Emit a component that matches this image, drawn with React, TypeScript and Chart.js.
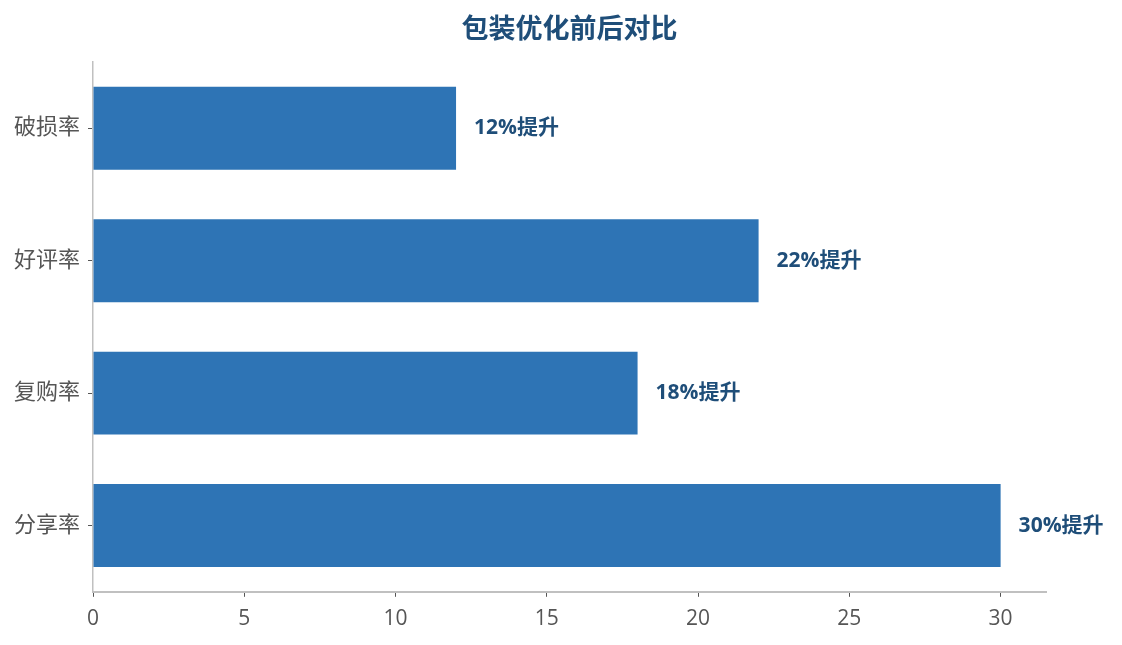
import { useEffect, useRef } from "react";
import { Chart, registerables, type ChartConfiguration, type Plugin } from "chart.js";

Chart.register(...registerables);

const title = "包装优化前后对比";
const categories = ["破损率", "好评率", "复购率", "分享率"];
const improvement = [12, 22, 18, 30];
const valueLabels = ["12%提升", "22%提升", "18%提升", "30%提升"];

const FONT = "'Open Sans', 'Noto Sans CJK SC', sans-serif";
const DARK = "#1f4e79";

// value labels at the bar ends, and the title centred over the plot area
const barLabels: Plugin<"bar"> = {
  id: "barLabels",
  afterDatasetsDraw(chart) {
    const ctx = chart.ctx;
    const meta = chart.getDatasetMeta(0);
    ctx.save();
    ctx.font = `bold 21px ${FONT}`;
    ctx.fillStyle = DARK;
    ctx.textAlign = "left";
    ctx.textBaseline = "middle";
    meta.data.forEach((bar, i) => {
      ctx.fillText(valueLabels[i], bar.x + 18, bar.y);
    });

    const { left, right, top } = chart.chartArea;
    ctx.font = `bold 27px ${FONT}`;
    ctx.textAlign = "center";
    ctx.fillText(title, (left + right) / 2, top - 32);
    ctx.restore();
  },
};

export default function App() {
  const canvasRef = useRef<HTMLCanvasElement>(null);
  const chartRef = useRef<Chart | null>(null);

  useEffect(() => {
    document.body.style.margin = "0";
    const ctx = canvasRef.current?.getContext("2d");
    if (!ctx) return;
    chartRef.current?.destroy();

    const config: ChartConfiguration<"bar"> = {
      type: "bar",
      data: {
        labels: categories,
        datasets: [
          {
            data: improvement,
            backgroundColor: "#2e74b5",
            barPercentage: 0.626,
            categoryPercentage: 1,
          },
        ],
      },
      options: {
        indexAxis: "y",
        responsive: false,
        animation: false,
        layout: { padding: { left: 6, right: 76, top: 62, bottom: 3 } },
        plugins: {
          legend: { display: false },
          tooltip: { enabled: false },
          title: { display: false },
        },
        scales: {
          x: {
            min: 0,
            max: 31.5,
            ticks: {
              stepSize: 5,
              includeBounds: false,
              color: "#555",
              font: { family: FONT, size: 21 },
              padding: 10,
            },
            grid: { display: true, drawOnChartArea: false, tickLength: 5, tickColor: "#555" },
            border: { color: "#c0c0c0", width: 2 },
          },
          y: {
            ticks: {
              color: "#555",
              font: { family: FONT, size: 22 },
              padding: 8,
            },
            grid: { display: true, offset: false, drawOnChartArea: false, tickLength: 5, tickColor: "#555" },
            border: { color: "#c0c0c0", width: 1.5 },
          },
        },
      },
      plugins: [barLabels],
    };

    chartRef.current = new Chart(ctx, config);
    return () => chartRef.current?.destroy();
  }, []);

  return (
    <div style={{ width: 1122, height: 645, background: "#fff" }}>
      <canvas ref={canvasRef} width={1122} height={645} />
    </div>
  );
}
